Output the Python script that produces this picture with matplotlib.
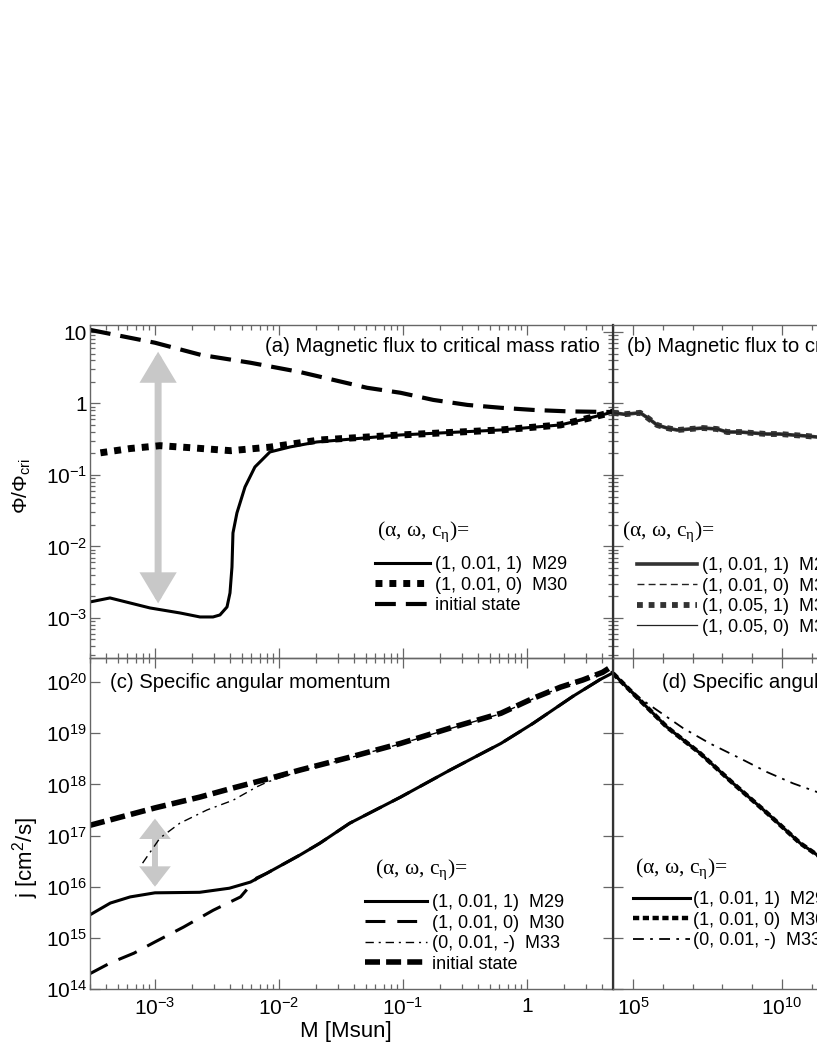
import numpy as np
import matplotlib
matplotlib.use('Agg')
import matplotlib.pyplot as plt
from matplotlib.ticker import FixedLocator, FuncFormatter, NullFormatter, NullLocator
from matplotlib.patches import FancyArrowPatch

plt.rcParams['font.family'] = ['Liberation Sans', 'DejaVu Sans']
plt.rcParams['mathtext.fontset'] = 'custom'
plt.rcParams['mathtext.rm'] = 'Liberation Sans'
plt.rcParams['mathtext.it'] = 'Liberation Sans:italic'
plt.rcParams['mathtext.bf'] = 'Liberation Sans:bold'
plt.rcParams['axes.unicode_minus'] = False

# ---------------- data (log10 values) ----------------
# panel (a): magnetic flux to critical mass ratio vs M [Msun]
a_init_logM = [-3.524, -3.0, -2.63, -2.23, -1.83, -1.56, -1.29, -1.02, -0.755, -0.48, -0.21, 0.05, 0.33, 0.694]
a_init_logphi = [1.03, 0.85, 0.68, 0.57, 0.44, 0.33, 0.22, 0.15, 0.05, -0.02, -0.06, -0.09, -0.11, -0.12]

a_m30_logM = [-3.44, -3.2, -2.96, -2.7, -2.39, -2.07, -1.67, -1.02, -0.21, 0.27, 0.51, 0.694]
a_m30_logphi = [-0.69, -0.63, -0.59, -0.62, -0.66, -0.61, -0.51, -0.44, -0.37, -0.30, -0.20, -0.12]

a_m29_logM = [-3.524, -3.363, -3.04, -2.798, -2.637, -2.532, -2.476, -2.419, -2.395, -2.379, -2.371,
              -2.339, -2.274, -2.194, -2.073, -1.911, -1.694, -1.02, -0.21, 0.27, 0.51, 0.694]
a_m29_logphi = [-2.776, -2.720, -2.860, -2.930, -2.986, -2.986, -2.958, -2.846, -2.650, -2.287, -1.811,
                -1.531, -1.168, -0.888, -0.678, -0.608, -0.538, -0.44, -0.37, -0.30, -0.20, -0.12]

# panel (b): same quantity, later evolution (all models overlap)
b_logX = [4.33, 4.7, 5.0, 5.24, 5.5, 5.81, 6.14, 6.48, 6.91, 7.35, 7.82, 8.16, 8.59, 9.03, 9.5, 9.93, 10.37, 10.84, 11.18, 12.0]
b_logphi = [-0.13, -0.15, -0.14, -0.13, -0.203, -0.301, -0.343, -0.371, -0.357, -0.343, -0.357, -0.399,
            -0.399, -0.413, -0.427, -0.427, -0.441, -0.455, -0.469, -0.50]

# panel (c): specific angular momentum vs M [Msun]
c_init_logM = [-3.524, -3.0, -2.64, -2.37, -2.07, -1.83, -1.43, -1.02, -0.62, -0.21, 0.048, 0.27, 0.45, 0.61, 0.694]
c_init_logj = [17.20, 17.54, 17.75, 17.93, 18.12, 18.28, 18.53, 18.80, 19.10, 19.39, 19.68, 19.90, 20.04, 20.19, 20.32]

c_m33_logM = [-3.10, -2.96, -2.80, -2.58, -2.37, -2.18, -2.10, -1.83, -1.43, -1.02, -0.62, -0.21, 0.048, 0.27, 0.45, 0.61, 0.694]
c_m33_logj = [16.46, 16.95, 17.24, 17.50, 17.69, 17.95, 18.04, 18.26, 18.52, 18.79, 19.09, 19.38, 19.67, 19.89, 20.03, 20.18, 20.30]

c_m29_logM = [-3.524, -3.36, -3.2, -3.0, -2.64, -2.40, -2.23, -2.10, -1.83, -1.67, -1.43, -1.02, -0.62, -0.21, 0.048, 0.37, 0.59, 0.694]
c_m29_logj = [15.45, 15.68, 15.80, 15.88, 15.89, 15.97, 16.09, 16.26, 16.62, 16.85, 17.24, 17.75, 18.28, 18.80, 19.19, 19.72, 20.05, 20.18]

c_m30_logM = [-3.524, -3.36, -3.17, -3.0, -2.77, -2.53, -2.31, -2.18, -2.10, -1.83, -1.67, -1.43, -1.02, -0.62, -0.21, 0.048, 0.37, 0.59, 0.694]
c_m30_logj = [14.30, 14.51, 14.70, 14.92, 15.21, 15.54, 15.80, 16.17, 16.26, 16.62, 16.85, 17.24, 17.75, 18.28, 18.80, 19.19, 19.72, 20.05, 20.20]

# panel (d): specific angular momentum, later evolution
d_m29_logX = [4.33, 5.0, 6.14, 7.25, 8.36, 9.50, 10.61, 11.18, 12.0]
d_m29_logj = [20.17, 19.78, 19.12, 18.61, 18.02, 17.44, 16.85, 16.62, 16.25]
d_m30_logX = [4.33, 5.0, 6.14, 7.25, 8.36, 9.50, 10.61, 11.18, 12.0]
d_m30_logj = [20.17, 19.78, 19.12, 18.61, 18.02, 17.44, 16.85, 16.62, 16.25]
d_m33_logX = [4.33, 5.0, 5.34, 5.81, 6.68, 7.58, 8.59, 9.50, 10.37, 11.18, 12.0]
d_m33_logj = [20.17, 19.80, 19.64, 19.45, 19.10, 18.80, 18.51, 18.24, 18.02, 17.85, 17.65]

# gray double arrows (x, y_top, y_bottom) in data units
arrow_a = (1.06e-3, 5.3, 1.6e-3)
arrow_c = (1.0e-3, 10**17.33, 10**16.0)

legend_title = r'(α, ω, c$_{\mathregular{η}}$)='
a_labels = ['(1, 0.01, 1)  M29', '(1, 0.01, 0)  M30', 'initial state']
b_labels = ['(1, 0.01, 1)  M29', '(1, 0.01, 0)  M30', '(1, 0.05, 1)  M31', '(1, 0.05, 0)  M32']
c_labels = ['(1, 0.01, 1)  M29', '(1, 0.01, 0)  M30', '(0, 0.01, -)  M33', 'initial state']
d_labels = ['(1, 0.01, 1)  M29', '(1, 0.01, 0)  M30', '(0, 0.01, -)  M33']

# ---------------- figure ----------------
W, H = 817, 1058
fig = plt.figure(figsize=(W / 100, H / 100), dpi=100)


def pos(l, t, r, b):
    return [l / W, 1 - b / H, (r - l) / W, (b - t) / H]


ax_a = fig.add_axes(pos(90, 325, 613, 658), facecolor='none')
ax_b = fig.add_axes(pos(613, 325, 980, 658), facecolor='none')
ax_c = fig.add_axes(pos(90, 658, 613, 989), facecolor='none')
ax_d = fig.add_axes(pos(613, 658, 980, 989), facecolor='none')

XL = (10 ** -3.524, 10 ** 0.694)
XR = (10 ** 4.33, 10 ** (4.33 + 367 / 29.8))
YT = (10 ** -3.56, 10 ** 1.098)
YB = (1e14, 10 ** 20.47)

p = lambda v: 10 ** np.asarray(v)

K = 'black'
# (a)
l_a29, = ax_a.plot(p(a_m29_logM), p(a_m29_logphi), color=K, lw=2.2)
l_a30, = ax_a.plot(p(a_m30_logM), p(a_m30_logphi), color=K, lw=5, dashes=(1.0, 1.0), dash_capstyle='butt')
l_ainit, = ax_a.plot(p(a_init_logM), p(a_init_logphi), color=K, lw=3, dashes=(5, 2.4), dash_capstyle='butt')

# (b)
l_b29, = ax_b.plot(p(b_logX), p(b_logphi), color='#333333', lw=2.6)
l_b30, = ax_b.plot(p(b_logX), p(b_logphi), color='#222222', lw=1.0, dashes=(5, 3))
l_b31, = ax_b.plot(p(b_logX), p(b_logphi), color='#333333', lw=4.2, dashes=(1.0, 1.0), dash_capstyle='butt')
l_b32, = ax_b.plot(p(b_logX), p(b_logphi), color='#222222', lw=0.9)

# (c)
l_cinit, = ax_c.plot(p(c_init_logM), p(c_init_logj), color=K, lw=4, dashes=(2.7, 1.1), dash_capstyle='butt')
l_c33, = ax_c.plot(p(c_m33_logM), p(c_m33_logj), color=K, lw=1.0, dashes=(6, 3.5, 1.5, 3.5))
l_c29, = ax_c.plot(p(c_m29_logM), p(c_m29_logj), color=K, lw=2.2)
l_c30, = ax_c.plot(p(c_m30_logM), p(c_m30_logj), color=K, lw=2.2, dashes=(6.5, 3.9), dash_capstyle='butt')

# (d)
l_d29, = ax_d.plot(p(d_m29_logX), p(d_m29_logj), color=K, lw=2.2)
l_d30, = ax_d.plot(p(d_m30_logX), p(d_m30_logj), color=K, lw=3.2, dashes=(1.4, 0.8), dash_capstyle='butt')
l_d33, = ax_d.plot(p(d_m33_logX), p(d_m33_logj), color=K, lw=1.3, dashes=(6, 3.5, 1.5, 3.5))

# gray arrows
for ax, (x, y1, y2), hl, hw, lw in [(ax_a, arrow_a, 15, 9, 5.0), (ax_c, arrow_c, 9, 7, 4.3)]:
    ar = FancyArrowPatch((x, y1), (x, y2), arrowstyle='<|-|>,head_length=%g,head_width=%g' % (hl, hw),
                         mutation_scale=1, lw=lw, color='#c8c8c8', shrinkA=0, shrinkB=0, zorder=1,
                         joinstyle='miter')
    ax.add_patch(ar)


def logfmt(v, pos):
    e = int(round(np.log10(v)))
    if e == 0:
        return '1'
    if e == 1:
        return '10'
    return r'$\mathregular{10^{%d}}$' % e


SP = '#666666'
for ax in (ax_a, ax_b, ax_c, ax_d):
    ax.set_xscale('log')
    ax.set_yscale('log')
    for s in ax.spines.values():
        s.set_color(SP)
        s.set_linewidth(1.0)
    ax.tick_params(which='both', direction='in', color=SP, width=0.9, labelsize=15)
    ax.tick_params(which='major', length=7)
    ax.tick_params(which='minor', length=3.5)

for ax in (ax_a, ax_c):
    ax.set_xlim(*XL)
    ax.xaxis.set_major_locator(FixedLocator([1e-3, 1e-2, 1e-1, 1.0]))
    ax.xaxis.set_minor_locator(FixedLocator([m * 10.0 ** e for e in range(-4, 1) for m in range(2, 10)]))
    ax.tick_params(which='both', top=True, right=True)
for ax in (ax_b, ax_d):
    ax.set_xlim(*XR)
    ax.xaxis.set_major_locator(FixedLocator([1e5, 1e10, 1e15]))
    ax.xaxis.set_minor_locator(FixedLocator([10.0 ** e for e in range(4, 18)]))
    ax.tick_params(which='both', top=True, right=False, labelleft=False)
    ax.spines['left'].set_color('#333333')
    ax.spines['left'].set_linewidth(1.6)

for ax in (ax_a, ax_b):
    ax.set_ylim(*YT)
    ax.yaxis.set_major_locator(FixedLocator([10.0 ** e for e in range(-3, 2)]))
    ax.yaxis.set_minor_locator(FixedLocator([m * 10.0 ** e for e in range(-4, 2) for m in range(2, 10)]))
    ax.tick_params(labelbottom=False)
for ax in (ax_c, ax_d):
    ax.set_ylim(*YB)
    ax.yaxis.set_major_locator(FixedLocator([10.0 ** e for e in range(14, 21)]))
    ax.yaxis.set_minor_locator(NullLocator())

for ax in (ax_a, ax_b, ax_c, ax_d):
    ax.xaxis.set_major_formatter(FuncFormatter(logfmt))
    ax.yaxis.set_major_formatter(FuncFormatter(logfmt))
    ax.xaxis.set_minor_formatter(NullFormatter())
    ax.yaxis.set_minor_formatter(NullFormatter())
    ax.tick_params(axis='y', pad=2)
    ax.tick_params(axis='x', pad=6)

# panel titles
TF = 14.6
ax_a.text(0.975, 0.934, '(a) Magnetic flux to critical mass ratio', transform=ax_a.transAxes,
          ha='right', va='center', fontsize=TF)
ax_b.text(0.038, 0.934, '(b) Magnetic flux to critical mass ratio', transform=ax_b.transAxes,
          ha='left', va='center', fontsize=TF)
ax_c.text(0.038, 0.927, '(c) Specific angular momentum', transform=ax_c.transAxes,
          ha='left', va='center', fontsize=TF)
ax_d.text(0.134, 0.927, '(d) Specific angular momentum', transform=ax_d.transAxes,
          ha='left', va='center', fontsize=TF)

# legends
LF = 13
TTF = dict(fontsize=15.5, family=['Liberation Serif', 'DejaVu Serif'])
for ax, tx, ty in [(ax_a, 0.549, 0.414), (ax_b, 0.0245, 0.414), (ax_c, 0.545, 0.396), (ax_d, 0.060, 0.399)]:
    ax.text(tx, ty, legend_title, transform=ax.transAxes, ha='left', va='top', **TTF)

common = dict(loc='center left', frameon=False, borderpad=0, borderaxespad=0, fontsize=LF,
              labelspacing=0.2)
ax_a.legend([l_a29, l_a30, l_ainit], a_labels, bbox_to_anchor=(0.545, 0.219),
            handlelength=3.05, handletextpad=0.28, **common)
ax_b.legend([l_b29, l_b30, l_b31, l_b32], b_labels, bbox_to_anchor=(0.0654, 0.185),
            handlelength=3.3, handletextpad=0.28, **common)
ax_c.legend([l_c29, l_c30, l_c33, l_cinit], c_labels, bbox_to_anchor=(0.526, 0.168),
            handlelength=3.45, handletextpad=0.28, **common)
ax_d.legend([l_d29, l_d30, l_d33], d_labels, bbox_to_anchor=(0.0545, 0.208),
            handlelength=3.15, handletextpad=0.17, **common)

# axis labels
fig.text(22 / W, 1 - 486 / H, r'$\Phi/\Phi_{\mathregular{cri}}$', rotation=90, ha='center', va='center', fontsize=15)
fig.text(26 / W, 1 - 858 / H, r'j [cm$^{\mathregular{2}}$/s]', rotation=90, ha='center', va='center', fontsize=16)
fig.text(346 / W, 1 - 1032 / H, 'M [Msun]', ha='center', va='center', fontsize=16)

fig.savefig('out.png', dpi=100)
